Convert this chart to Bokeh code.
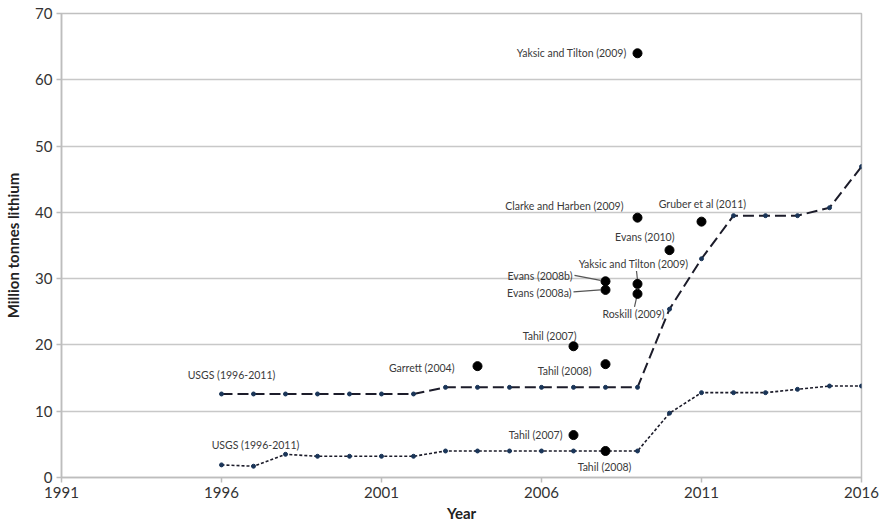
from bokeh.plotting import figure
from bokeh.models import FixedTicker, Range1d
from bokeh.core.properties import value
from bokeh.embed import file_html
from bokeh.resources import INLINE

# USGS series, 1996-2016
years = list(range(1996, 2017))
usgs_resources = [12.6, 12.6, 12.6, 12.6, 12.6, 12.6, 12.6,
                  13.6, 13.6, 13.6, 13.6, 13.6, 13.6, 13.6,
                  25.4, 33.0, 39.5, 39.5, 39.5, 40.7, 46.9]
usgs_reserves = [1.9, 1.7, 3.5, 3.2, 3.2, 3.2, 3.2,
                 4.0, 4.0, 4.0, 4.0, 4.0, 4.0, 4.0,
                 9.7, 12.8, 12.8, 12.8, 13.3, 13.8, 13.8]

# Published estimates (resources)
res_names = ["Yaksic and Tilton (2009)", "Clarke and Harben (2009)", "Gruber et al (2011)",
             "Evans (2010)", "Yaksic and Tilton (2009)", "Evans (2008b)", "Evans (2008a)",
             "Roskill (2009)", "Tahil (2007)", "Tahil (2008)", "Garrett (2004)"]
res_years = [2009, 2009, 2011, 2010, 2009, 2008, 2008, 2009, 2007, 2008, 2004]
res_values = [64.0, 39.2, 38.6, 34.3, 29.2, 29.6, 28.3, 27.7, 19.8, 17.1, 16.8]

# Published estimates (reserves)
rsv_names = ["Tahil (2007)", "Tahil (2008)"]
rsv_years = [2007, 2008]
rsv_values = [6.4, 4.0]

x_ticks = [1991, 1996, 2001, 2006, 2011, 2016]
y_ticks = [0, 10, 20, 30, 40, 50, 60, 70]

FONT = "Lato"
X0, X1, Y0, Y1 = 1991, 2016, 0, 70
FW, FH = 800, 464
PX_X = FW / (X1 - X0)
PX_Y = FH / (Y1 - Y0)

p = figure(width=883, height=525, output_backend="svg", toolbar_location=None,
           x_range=Range1d(X0, X1), y_range=Range1d(Y0, Y1),
           min_border_left=61, min_border_right=22, min_border_top=13, min_border_bottom=48)
p.background_fill_color = "white"
p.border_fill_color = "white"
p.outline_line_color = "#c0c0c0"
p.outline_line_width = 1.5

p.xgrid.grid_line_color = None
p.ygrid.grid_line_color = "#c8c8c8"
p.ygrid.grid_line_width = 1.5

for ax in (p.xaxis[0], p.yaxis[0]):
    ax.axis_line_color = "#bdbdbd"
    ax.axis_line_width = 1.5
    ax.major_tick_line_color = "#bdbdbd"
    ax.major_tick_line_width = 1.5
    ax.major_tick_in = 0
    ax.major_tick_out = 5
    ax.minor_tick_line_color = None
    ax.major_label_text_font = FONT
    ax.major_label_text_font_size = "15px"
    ax.major_label_text_color = "#333333"
    ax.axis_label_text_font = FONT
    ax.axis_label_text_font_size = "15px"
    ax.axis_label_text_font_style = "bold"
    ax.axis_label_text_color = "#222222"

p.xaxis.ticker = FixedTicker(ticks=x_ticks)
p.yaxis.ticker = FixedTicker(ticks=y_ticks)
p.xaxis.axis_label = "Year"
p.yaxis.axis_label = "Million tonnes lithium"
p.xaxis.major_label_standoff = 4
p.xaxis.axis_label_standoff = 3
p.yaxis.major_label_standoff = 4
p.yaxis.axis_label_standoff = 10

LINE_COLOR = "#1c1c2a"
MARK_COLOR = "#1a3558"

# USGS lines
p.line(years, usgs_resources, line_color=LINE_COLOR, line_width=2, line_dash="11 5")
p.scatter(years, usgs_resources, size=4, color=MARK_COLOR)
p.line(years, usgs_reserves, line_color=LINE_COLOR, line_width=1.6, line_dash="3 2")
p.scatter(years, usgs_reserves, size=4, color=MARK_COLOR)

# Leader lines: (point index, start offset px, end offset px)
def seg(x, y, a, b):
    return (x + a[0] / PX_X, y - a[1] / PX_Y, x + b[0] / PX_X, y - b[1] / PX_Y)

leaders = [
    (4, (-1, -13), (0, -4)),     # Yaksic and Tilton (2009) lower
    (5, (-31, -6), (-5, -1)),    # Evans (2008b)
    (6, (-32, 2), (-5, 0)),      # Evans (2008a)
    (7, (-1, 4), (-3, 13)),      # Roskill (2009)
]
for i, a, b in leaders:
    x0, y0, x1, y1 = seg(res_years[i], res_values[i], a, b)
    p.segment(x0=[x0], y0=[y0], x1=[x1], y1=[y1], line_color="#555555", line_width=1.2)

# Estimate dots
p.scatter(res_years, res_values, size=9, color="black")
p.scatter(rsv_years, rsv_values, size=9, color="black")

# Labels: (x offset px, y offset px, align) relative to their point
res_label_pos = [
    (-11, 0, "right"),
    (-14, -12, "right"),
    (1, -18, "center"),
    (5, -13, "right"),
    (-4, -20, "center"),
    (-33, -5, "right"),
    (-34, 3, "right"),
    (-4, 20, "center"),
    (3, -10, "right"),
    (-14, 7, "right"),
    (-23, 2, "right"),
]
rsv_label_pos = [
    (-11, 0, "right"),
    (-1, 16, "center"),
]

def label(x, y, txt, dx, dy, align):
    p.text(x=[x], y=[y], text=[txt], x_offset=dx, y_offset=dy,
           text_align=align, text_baseline="middle",
           text_font=value(FONT), text_font_size="10.5px", text_color="#3a3a3a")

for i, name in enumerate(res_names):
    dx, dy, al = res_label_pos[i]
    label(res_years[i], res_values[i], name, dx, dy, al)
for i, name in enumerate(rsv_names):
    dx, dy, al = rsv_label_pos[i]
    label(rsv_years[i], rsv_values[i], name, dx, dy, al)

label(years[0], usgs_resources[0], "USGS (1996-2011)", 10, -19, "center")
label(years[0], usgs_reserves[0], "USGS (1996-2011)", 34, -20, "center")

open("out.html", "w").write(file_html(p, INLINE))
